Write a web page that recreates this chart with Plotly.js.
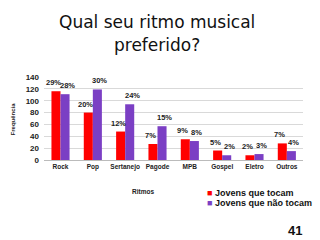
<!DOCTYPE html>
<html><head><meta charset="utf-8">
<script src="https://cdn.plot.ly/plotly-3.0.1.min.js"></script>
<style>html,body{margin:0;padding:0;background:#fff}#c{width:320px;height:240px}</style>
</head><body><div id="c"></div>
<script>
const categories = ["Rock","Pop","Sertanejo","Pagode","MPB","Gospel","Eletro","Outros"];
const tocam = [116, 80, 48, 27, 35, 16, 8, 28];
const naoTocam = [111, 119, 94, 57, 32, 8, 10, 15];
const tocamPct = ["29%","20%","12%","7%","9%","5%","2%","7%"];
const naoTocamPct = ["28%","30%","24%","15%","8%","2%","3%","4%"];
const yTicks = [0,20,40,60,80,100,120,140];
const seriesNames = ["Jovens que tocam","Jovens que não tocam"];
const colors = ["#FF0000","#7B3FC4"];

const F = "Liberation Sans, Arial";
const traces = [
  {type:"bar", name:seriesNames[0], x:categories, y:tocam, marker:{color:colors[0]}},
  {type:"bar", name:seriesNames[1], x:categories, y:naoTocam, marker:{color:colors[1]}}
];
const ann = [
  {text:"Qual seu ritmo musical", y:1.663},
  {text:"preferido?", y:1.386}
].map(a=>({text:a.text, xref:"paper", yref:"paper", x:0.435, y:a.y, xanchor:"center", yanchor:"middle",
   showarrow:false, font:{family:"DejaVu Sans, Verdana", size:17, color:"#111"}}));
[[tocam,tocamPct,-7],[naoTocam,naoTocamPct,7]].forEach(([vals,pcts,sh])=>{
  categories.forEach((c,i)=>{
    ann.push({text:"<b>"+pcts[i]+"</b>", x:c, y:vals[i], xref:"x", yref:"y", xshift:sh, yshift:2,
      yanchor:"bottom", xanchor:"center", showarrow:false, font:{family:F, size:7.5, color:"#222"}});
  });
});
ann.push(
  {text:"<b>Ritmos</b>", xref:"paper", yref:"paper", x:0.382, y:-0.446, showarrow:false,
   font:{family:F, size:6.5, color:"#222"}},
  {text:"<b>Frequência</b>", xref:"paper", yref:"paper", x:-0.12, y:0.5, textangle:-90, showarrow:false,
   xanchor:"center", font:{family:F, size:6, color:"#222"}},
  {text:"<b>41</b>", xref:"paper", yref:"paper", x:1.004, xanchor:"right", y:-0.855, yanchor:"middle", showarrow:false,
   font:{family:F, size:13, color:"#111"}}
);
seriesNames.forEach((n,i)=>{
  ann.push({text:'<span style="color:'+colors[i]+'">■</span> <b>'+n+'</b>', xref:"paper", yref:"paper",
    x:0.62, xanchor:"left", y:-0.398-0.12*i, yanchor:"middle", showarrow:false,
    font:{family:F, size:9, color:"#111"}});
});
const layout = {
  width:320, height:240,
  margin:{l:44, r:17, t:77, b:80},
  paper_bgcolor:"#fff", plot_bgcolor:"#fff",
  barmode:"group", bargap:0.44, bargroupgap:0,
  showlegend:false,
  xaxis:{tickfont:{family:F, size:6.5, color:"#222", weight:"bold"}, tickangle:0, automargin:false,
    showline:true, linecolor:"#bbb", ticks:""},
  yaxis:{range:[0,140], tickvals:yTicks, showgrid:true, gridcolor:"#d9d9d9", zeroline:false, automargin:false,
    tickfont:{family:F, size:8, color:"#222", weight:"bold"}, ticks:"", ticklabelstandoff:4},
  annotations:ann
};
Plotly.newPlot("c", traces, layout, {displayModeBar:false, staticPlot:true});
</script></body></html>
